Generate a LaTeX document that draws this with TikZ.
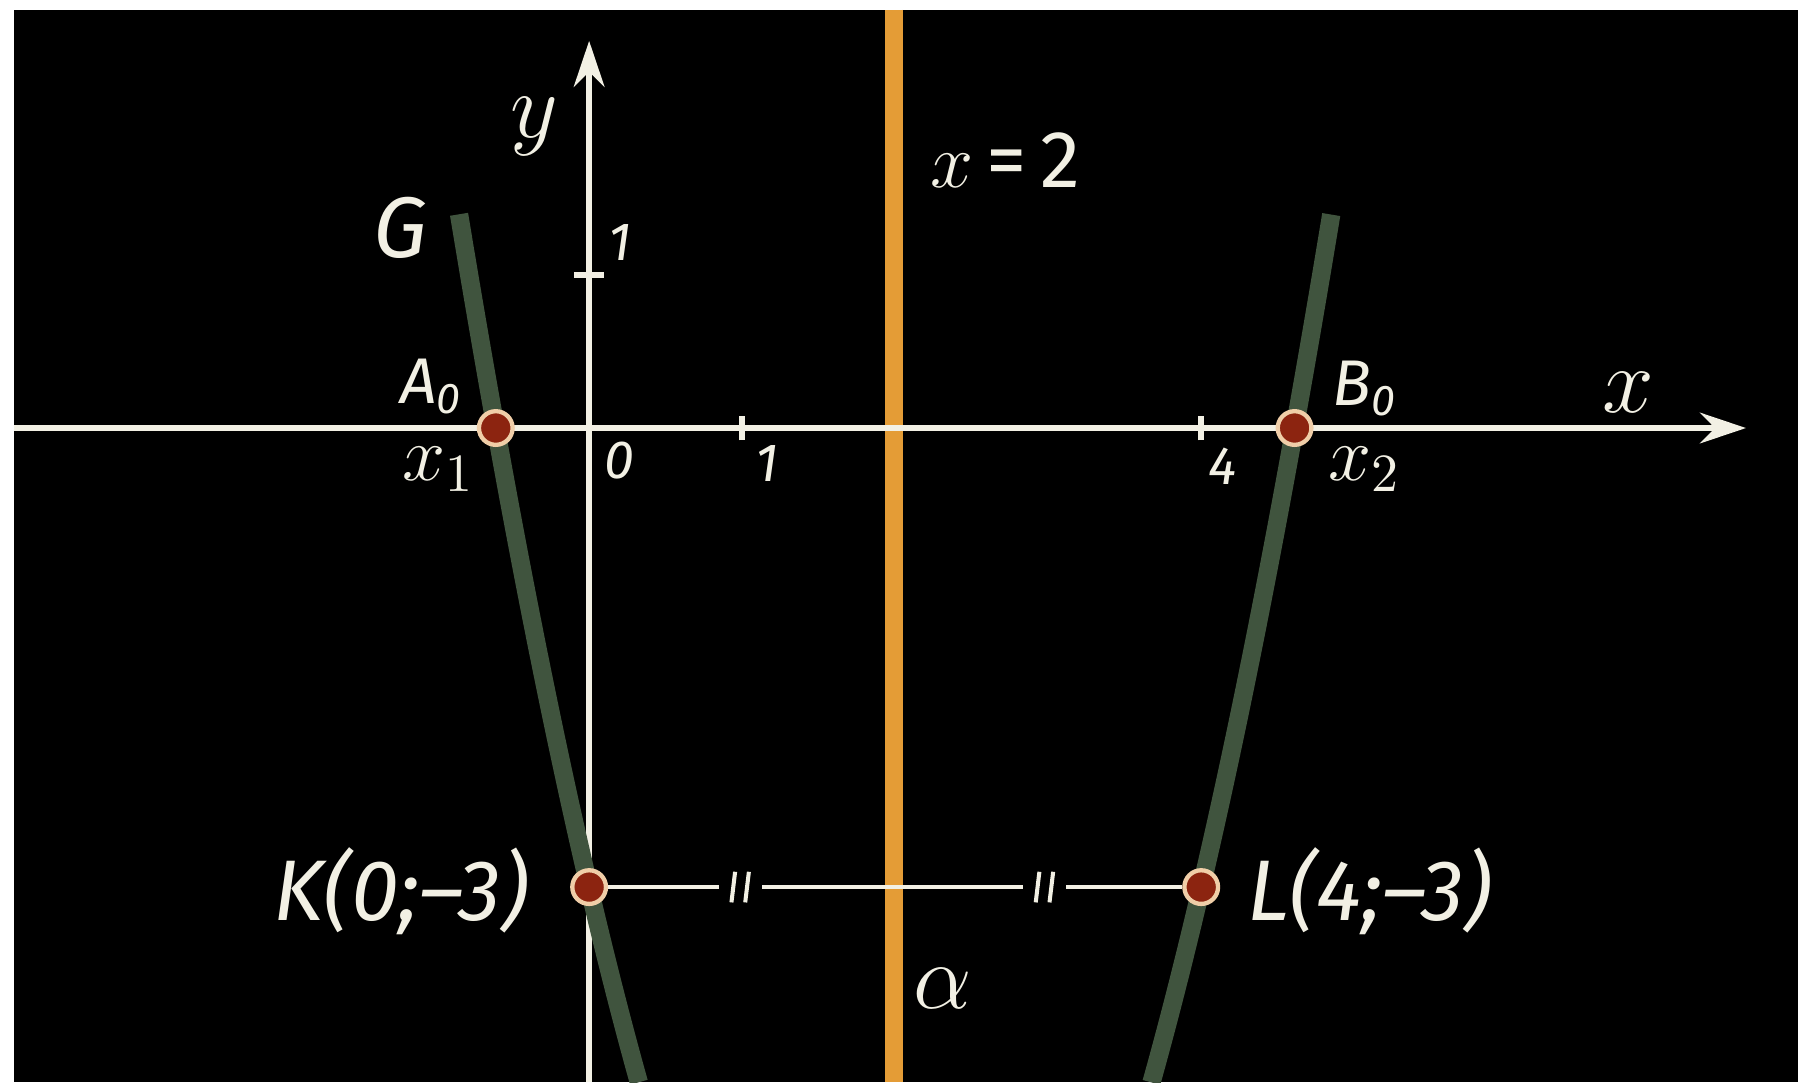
\documentclass[tikz,border=0pt]{standalone}
\usepackage{amsmath}
\usepackage{fontspec}
\setmainfont{Fira Sans}
\usetikzlibrary{arrows.meta}
\definecolor{chalk}{RGB}{242,240,228}
\definecolor{ochre}{RGB}{228,156,54}
\definecolor{graphgreen}{RGB}{64,84,62}
\definecolor{dotred}{RGB}{140,36,16}
\definecolor{dotrim}{RGB}{240,206,168}

\begin{document}
\begin{tikzpicture}[
  >={Stealth[length=3mm,width=2mm]},
  axis/.style={draw=chalk,line width=1.1pt},
  seg/.style={draw=chalk,line width=0.75pt},
  graph/.style={draw=graphgreen,line width=3.4pt},
  symline/.style={draw=ochre,line width=3.3pt},
  dot/.style={circle,draw=dotrim,fill=dotred,line width=0.8pt,minimum size=2.2mm,inner sep=0pt},
  eqmark/.style={fill=black,inner sep=0pt,minimum width=2.8mm,minimum height=2.4mm,
    path picture={\foreach \dx in {-0.45mm,0.45mm}
      \draw[chalk,line width=0.75pt] ([xshift=\dx-0.12mm,yshift=-1mm]path picture bounding box.center) -- ++(0.24mm,2mm);}},
  lab/.style={text=chalk,inner sep=0pt,font=\fontsize{16}{19}\selectfont\itshape},
  sublab/.style={text=chalk,inner sep=0pt,font=\fontsize{12}{14}\selectfont\itshape},
  ticklab/.style={text=chalk,inner sep=0pt,font=\fontsize{10}{12}\selectfont\itshape},
  mathlab/.style={text=chalk,inner sep=0pt,font=\fontsize{17}{20}\selectfont}
]
\useasboundingbox (-3.85,-4.275) rectangle (7.90,2.797);
\fill[white] (-3.85,-4.275) rectangle (7.90,2.797);
\fill[black] (-3.758,-4.275) rectangle (7.90,2.732);

\coordinate (atop) at (1.99,2.732);
\coordinate (abot) at (1.99,-4.275);
\coordinate (xl) at (-3.758,0);
\coordinate (xr) at (7.56,0);
\coordinate (yb) at (0,-4.275);
\coordinate (yt) at (0,2.53);

\draw[symline] (atop) -- (abot);
\draw[axis,->] (xl) -- (xr);
\draw[axis,->] (yb) -- (yt);
\foreach \t in {1,4}
  \draw[axis] (\t,-0.08) -- (\t,0.08);
\draw[axis] (-0.1,1) -- (0.1,1);

\draw[graph] plot[domain=-0.85:0.325,samples=40] (\x,{1.067*(\x-2)*(\x-2)-7.27});
\draw[graph] plot[domain=3.675:4.85,samples=40] (\x,{1.067*(\x-2)*(\x-2)-7.27});

\node[dot] (A0) at (-0.61,0) {};
\node[dot] (B0) at (4.61,0) {};
\node[dot] (K) at (0,-3) {};
\node[dot] (L) at (4,-3) {};
\draw[seg] (K) -- node[eqmark,pos=0.23] {} node[eqmark,pos=0.76] {} (L);

\node[lab] (Klab) at (-1.23,-3.03) {K(0;--3)};
\node[lab] (Llab) at (5.10,-3.03) {L(4;--3)};
\node[lab] (Glab) at (-1.235,1.31) {G};
\node[sublab] (A0lab) at (-1.03,0.27) {A\textsubscript{0}};
\node[sublab] (B0lab) at (5.07,0.26) {B\textsubscript{0}};
\node[mathlab] (xlab) at (6.79,0.235) {$x$};
\node[mathlab] (ylab) at (-0.36,1.97) {$y$};
\node[mathlab,font=\fontsize{14}{16}\selectfont] (x1lab) at (-0.98,-0.27) {$x_1$};
\node[mathlab,font=\fontsize{14}{16}\selectfont] (x2lab) at (5.07,-0.27) {$x_2$};
\node[ticklab] (o) at (0.20,-0.21) {0};
\node[ticklab] (one) at (1.16,-0.23) {1};
\node[ticklab] (four) at (4.14,-0.25) {4};
\node[ticklab] (yone) at (0.20,1.21) {1};
\node[mathlab,font=\fontsize{15}{18}\selectfont] (eqlab) at (2.72,1.75) {$x$\,=\,2};
\node[mathlab,font=\fontsize{16}{19}\selectfont] (alab) at (2.31,-3.66) {$\alpha$};
\end{tikzpicture}
\end{document}
